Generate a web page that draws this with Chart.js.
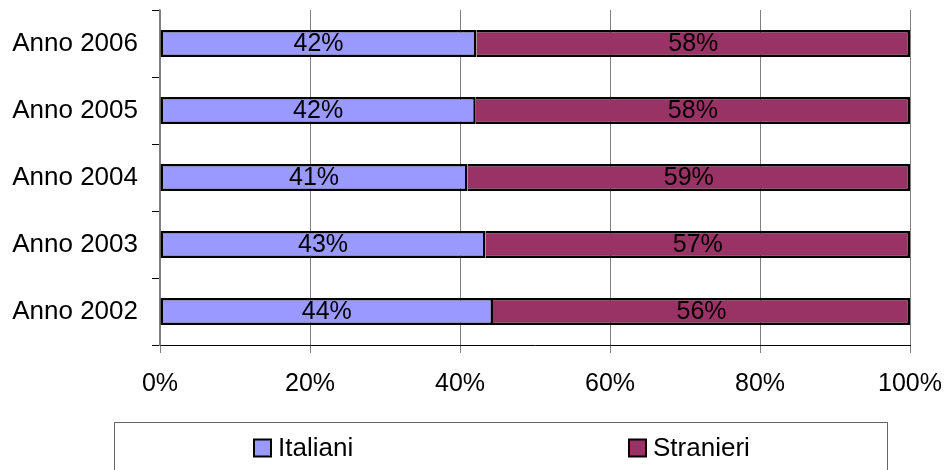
<!DOCTYPE html>
<html><head><meta charset="utf-8">
<script src="https://cdn.jsdelivr.net/npm/chart.js@4.4.1/dist/chart.umd.min.js"></script>
<style>html,body{margin:0;padding:0;background:#fff;}#wrap{width:951px;height:470px;}</style>
</head><body><div id="wrap"><canvas id="c" width="951" height="470"></canvas></div>
<script>
const categories = ['Anno 2006', 'Anno 2005', 'Anno 2004', 'Anno 2003', 'Anno 2002'];
const italiani = [42.2, 42.1, 41.0, 43.4, 44.4];
const stranieri = [57.8, 57.9, 59.0, 56.6, 55.6];
const xTickValues = [0, 20, 40, 60, 80, 100];
const seriesNames = ['Italiani', 'Stranieri'];
const seriesColors = ['#9999FF', '#993366'];

const FONT = '"Liberation Sans", Arial, sans-serif';

function zeroPad(s) { s.paddingTop = 0; s.paddingBottom = 0; s.paddingLeft = 0; s.paddingRight = 0; }

const barLabels = {
  id: 'barLabels',
  afterDatasetsDraw(chart) {
    const ctx = chart.ctx;
    ctx.save();
    ctx.font = '25px ' + FONT;
    ctx.fillStyle = '#000';
    ctx.textAlign = 'center';
    ctx.textBaseline = 'middle';
    chart.data.datasets.forEach((ds, di) => {
      const meta = chart.getDatasetMeta(di);
      meta.data.forEach((el, i) => {
        const p = el.getProps(['x', 'y', 'base'], true);
        ctx.fillText(Math.round(ds.data[i]) + '%', (p.x + p.base) / 2, p.y + 1);
      });
    });
    ctx.restore();
  }
};

const boxLegend = {
  id: 'boxLegend',
  afterDraw(chart) {
    const ctx = chart.ctx;
    const L = 114, R = 887, T = 422, B = 480;
    ctx.save();
    ctx.strokeStyle = '#666';
    ctx.lineWidth = 1;
    ctx.strokeRect(L + 0.5, T + 0.5, R - L, B - T);
    ctx.font = '26px ' + FONT;
    ctx.textBaseline = 'middle';
    ctx.textAlign = 'left';
    const n = chart.data.datasets.length;
    const colW = (R - L) / n;
    const cy = 448, sq = 17, gap = 7;
    chart.data.datasets.forEach((ds, i) => {
      const tw = ctx.measureText(ds.label).width;
      const w = sq + gap + tw;
      const x0 = Math.round(L + colW * i + colW / 2 - w / 2 - 4);
      ctx.fillStyle = ds.backgroundColor;
      ctx.fillRect(x0, cy - sq / 2, sq, sq);
      ctx.strokeStyle = '#000';
      ctx.lineWidth = 2;
      ctx.strokeRect(x0, cy - sq / 2, sq, sq);
      ctx.fillStyle = '#000';
      ctx.fillText(ds.label, x0 + sq + gap, cy + 1);
    });
    ctx.restore();
  }
};

new Chart(document.getElementById('c'), {
  type: 'bar',
  data: {
    labels: categories,
    datasets: [
      { label: seriesNames[0], data: italiani, backgroundColor: seriesColors[0], borderColor: '#000', borderWidth: 2.5, borderSkipped: false, barPercentage: 0.4, categoryPercentage: 1 },
      { label: seriesNames[1], data: stranieri, backgroundColor: seriesColors[1], borderColor: '#000', borderWidth: 2.5, borderSkipped: 'start', barPercentage: 0.4, categoryPercentage: 1 }
    ]
  },
  options: {
    indexAxis: 'y',
    responsive: false,
    animation: false,
    layout: { padding: { top: 10, right: 41, bottom: 75, left: 0 } },
    plugins: { legend: { display: false }, tooltip: { enabled: false } },
    scales: {
      x: {
        stacked: true,
        min: 0, max: 100,
        afterBuildTicks: (s) => { s.ticks = xTickValues.map(v => ({ value: v })); },
        afterFit: (s) => { s.height = 50; zeroPad(s); },
        grid: { color: '#808080', lineWidth: 1, drawTicks: true, tickLength: 8 },
        border: { color: '#000', width: 1 },
        ticks: { color: '#000', font: { family: FONT, size: 25 }, padding: 16, callback: (v) => v + '%', maxRotation: 0 }
      },
      y: {
        stacked: true,
        afterFit: (s) => { s.width = 160; zeroPad(s); },
        grid: { display: true, drawOnChartArea: false, drawTicks: true, tickLength: 8, color: '#000', offset: true },
        border: { color: '#808080', width: 1.5 },
        ticks: { color: '#000', font: { family: FONT, size: 26 }, padding: 14 }
      }
    }
  },
  plugins: [barLabels, boxLegend]
});
</script>
</body></html>
